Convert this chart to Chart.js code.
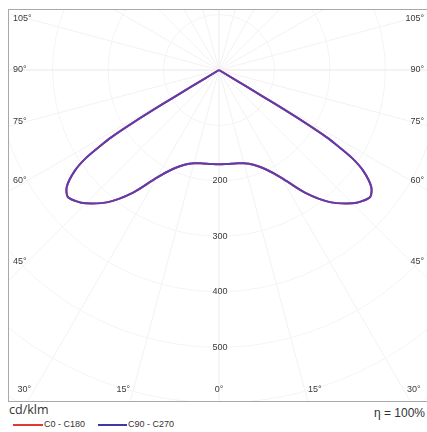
<!DOCTYPE html>
<html>
<head>
<meta charset="utf-8">
<script src="https://cdn.jsdelivr.net/npm/chart.js@4"></script>
<style>
  html, body { margin: 0; padding: 0; background: #fff; }
  body { width: 427px; height: 432px; position: relative; overflow: hidden; font-family: "Liberation Sans", Arial, sans-serif; }
  #frame { position: absolute; left: 8px; top: 9px; width: 425px; height: 391px; border: 1px solid #a8a8a8; }
  #chartBox { position: absolute; left: 9px; top: 10px; width: 418px; height: 391px; }
  .txt { position: absolute; color: #333; white-space: nowrap; }
  .key { position: absolute; height: 0; border-top: 2px solid; }
</style>
</head>
<body>
<div id="frame"></div>
<div id="chartBox"><canvas id="polar"></canvas></div>
<div class="txt" style="left:9px; top:403px; font: 12.5px 'Open Sans', sans-serif; line-height:14px;">cd/klm</div>
<div class="key" style="left:13px; top:424px; width:30px; border-color:#e03a2e;"></div>
<div class="txt" style="left:44px; top:419px; font-size:9px; line-height:11px;">C0 - C180</div>
<div class="key" style="left:98px; top:424px; width:29px; border-color:#3b3aa6;"></div>
<div class="txt" style="left:128px; top:419px; font-size:9px; line-height:11px;">C90 - C270</div>
<div class="txt" style="right:2px; top:406px; font-size:12px; line-height:14px;">&eta; = 100%</div>
<script>
// gamma angles (deg from nadir) and intensities in cd/klm
const gammaDeg = [0, 5, 10, 15, 20, 25, 30, 35, 40, 45, 47.5, 50, 52.5, 55, 56.5, 57.5, 58, 58.5, 58.8, 59, 60, 90];
const c0 = [170, 170, 171, 174, 182, 197, 224, 270, 311, 340, 350, 356, 346, 318, 288, 250, 230, 180, 120, 60, 0, 0];
const c180 = [170, 170, 171, 174, 182, 197, 224, 270, 311, 340, 350, 356, 346, 318, 288, 250, 230, 180, 120, 60, 0, 0];
const c90 = [170, 170, 171, 174, 182, 197, 224, 270, 311, 340, 350, 356, 346, 318, 288, 250, 230, 180, 120, 60, 0, 0];
const c270 = [170, 170, 171, 174, 182, 197, 224, 270, 311, 340, 350, 356, 346, 318, 288, 250, 230, 180, 120, 60, 0, 0];

// grid and labels
const ringValues = [100, 200, 300, 400, 500, 600, 700];
const ringLabels = ['200', '300', '400', '500'];
const sideAngles = [105, 90, 75, 60, 45];
const bottomAngles = [30, 15, 0];

const rad = (d) => d * Math.PI / 180;

// build a curve from left half (negative x) through nadir to right half
function buildCurve(leftVals, rightVals) {
  const pts = [];
  for (let i = gammaDeg.length - 1; i >= 0; i--) {
    const g = rad(gammaDeg[i]);
    pts.push({ x: -leftVals[i] * Math.sin(g), y: -leftVals[i] * Math.cos(g) });
  }
  for (let i = 1; i < gammaDeg.length; i++) {
    const g = rad(gammaDeg[i]);
    pts.push({ x: rightVals[i] * Math.sin(g), y: -rightVals[i] * Math.cos(g) });
  }
  return pts;
}

const gridPlugin = {
  id: 'polarGrid',
  beforeDatasetsDraw(chart) {
    const ctx = chart.ctx;
    const xs = chart.scales.x;
    const ys = chart.scales.y;
    const cx = xs.getPixelForValue(0);
    const cy = ys.getPixelForValue(0);
    const area = chart.chartArea;
    ctx.save();
    ctx.beginPath();
    ctx.rect(area.left, area.top, area.right - area.left, area.bottom - area.top);
    ctx.clip();
    ctx.lineWidth = 1;
    ctx.strokeStyle = '#f4f4f4';
    ringValues.forEach((r) => {
      const rp = xs.getPixelForValue(r) - cx;
      ctx.beginPath();
      ctx.arc(cx, cy, rp, 0, Math.PI * 2);
      ctx.stroke();
    });
    for (let a = 0; a <= 180; a += 15) {
      [-1, 1].forEach((s) => {
        const ex = xs.getPixelForValue(s * 1000 * Math.sin(rad(a)));
        const ey = ys.getPixelForValue(-1000 * Math.cos(rad(a)));
        ctx.beginPath();
        ctx.strokeStyle = a === 90 ? '#ebe5df' : '#f2f2f2';
        ctx.moveTo(cx, cy);
        ctx.lineTo(ex, ey);
        ctx.stroke();
      });
    }
    ctx.restore();
  },
  afterDatasetsDraw(chart) {
    const ctx = chart.ctx;
    const xs = chart.scales.x;
    const ys = chart.scales.y;
    const cx = xs.getPixelForValue(0);
    const cy = ys.getPixelForValue(0);
    const area = chart.chartArea;
    ctx.save();
    ctx.font = '9px "Liberation Sans", Arial, sans-serif';
    ctx.fillStyle = '#3a3a3a';
    ctx.textBaseline = 'middle';
    // intensity labels below the centre
    ctx.textAlign = 'center';
    ringLabels.forEach((t) => {
      ctx.fillText(t, cx + 1, ys.getPixelForValue(-Number(t)));
    });
    // angle labels along the sides
    const inset = cx - (area.left + 18);
    sideAngles.forEach((a) => {
      const y = cy + inset / Math.tan(rad(a));
      ctx.textAlign = 'left';
      ctx.fillText(a + '°', area.left + 4, y);
      ctx.textAlign = 'right';
      ctx.fillText(a + '°', area.right - 3, y);
    });
    // angle labels along the bottom
    const by = area.bottom - 11;
    bottomAngles.forEach((a) => {
      const off = (by - cy) * Math.tan(rad(a)) + (a === 0 ? 0 : 10);
      ctx.textAlign = 'center';
      ctx.fillText(a + '°', cx + off, by);
      if (a !== 0) ctx.fillText(a + '°', cx - off, by);
    });
    ctx.restore();
  }
};

const ctx = document.getElementById('polar').getContext('2d');
new Chart(ctx, {
  type: 'scatter',
  data: {
    datasets: [
      {
        label: 'C90 - C270',
        data: buildCurve(c270, c90),
        showLine: true,
        borderColor: '#5a3db5',
        borderWidth: 2,
        pointRadius: 0,
        tension: 0.3,
      },
      {
        label: 'C0 - C180',
        data: buildCurve(c180, c0),
        showLine: true,
        borderColor: '#e03a2e',
        borderWidth: 2,
        pointRadius: 0,
        tension: 0.3,
      },
    ],
  },
  options: {
    responsive: true,
    maintainAspectRatio: false,
    animation: false,
    layout: { padding: 0 },
    plugins: {
      legend: { display: false },
      tooltip: { enabled: false },
    },
    scales: {
      x: { type: 'linear', display: false, min: -378.7, max: 375.1 },
      y: { type: 'linear', display: false, min: -596.9, max: 108.2 },
    },
  },
  plugins: [gridPlugin],
});
</script>
</body>
</html>
